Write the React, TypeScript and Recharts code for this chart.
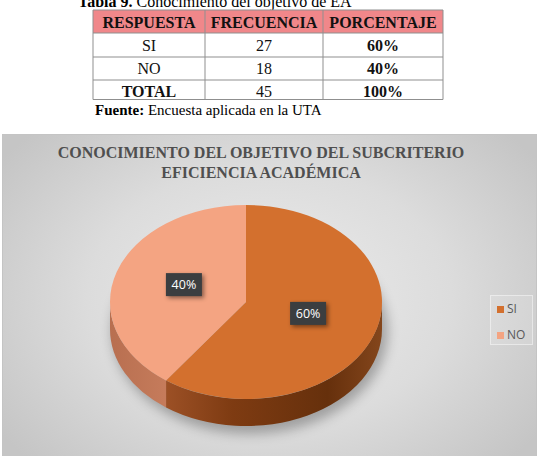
import React from 'react';
import { PieChart, Pie, Cell, Legend } from 'recharts';

// ---- data ----
const categories = ['SI', 'NO'];
const frequencies = [27, 18];
const percentages = ['60%', '40%'];
const totalLabel = 'TOTAL';
const totalFrequency = 45;
const totalPercentage = '100%';
const tableHeaders = ['RESPUESTA', 'FRECUENCIA', 'PORCENTAJE'];
const chartTitle = ['CONOCIMIENTO DEL OBJETIVO DEL SUBCRITERIO', 'EFICIENCIA ACADÉMICA'];
const tableCaptionBold = 'Tabla 9.';
const tableCaptionText = ' Conocimiento del objetivo de EA';
const sourceBold = 'Fuente:';
const sourceText = ' Encuesta aplicada en la UTA';

// ---- styles ----
const topColors = ['#D3702E', '#F4A482'];
const sideStops: [number, string][][] = [
  [[0.15, '#a3552a'], [0.45, '#7e3b12'], [0.8, '#66300c'], [1, '#84461c']],
  [[0, '#b86f50'], [0.2, '#c57b5b']],
];
const RATIO = 97 / 136;
const DEPTH = 27;
const SERIF = '"Liberation Serif", "Times New Roman", serif';
const SANS = '"Open Sans", "Liberation Sans", Arial, sans-serif';

const pieData = categories.map((name, i) => ({ name, value: frequencies[i] }));

function ept(cx: number, cy: number, rx: number, ry: number, deg: number) {
  const r = (deg * Math.PI) / 180;
  return [cx + rx * Math.cos(r), cy - ry * Math.sin(r)];
}

const Slice3D = (props: any) => {
  const { cx, cy, outerRadius, startAngle, endAngle, fill } = props;
  const nm = props.name ?? props.payload?.name;
  const idx = categories.indexOf(nm);
  const rx = outerRadius;
  const ry = outerRadius * RATIO;
  const lo = Math.min(startAngle, endAngle);
  const hi = Math.max(startAngle, endAngle);
  const [x1, y1] = ept(cx, cy, rx, ry, hi);
  const [x2, y2] = ept(cx, cy, rx, ry, lo);
  const large = hi - lo > 180 ? 1 : 0;
  const top = `M${cx},${cy} L${x1},${y1} A${rx},${ry} 0 ${large} 1 ${x2},${y2} Z`;
  const sides: string[] = [];
  for (let k = -2; k <= 2; k++) {
    const a = Math.max(lo, -180 + 360 * k);
    const b = Math.min(hi, 360 * k);
    if (b - a > 0.01) {
      const [bx, by] = ept(cx, cy, rx, ry, b);
      const [ax, ay] = ept(cx, cy, rx, ry, a);
      sides.push(
        `M${bx},${by} A${rx},${ry} 0 0 1 ${ax},${ay} L${ax},${ay + DEPTH} A${rx},${ry} 0 0 0 ${bx},${by + DEPTH} Z`
      );
    }
  }
  const gid = `side-grad-${idx}`;
  const stops = sideStops[idx] ?? [[0, '#888'], [1, '#666']];
  return (
    <g>
      <defs>
        <linearGradient id={gid} x1={cx - rx} x2={cx + rx} y1={0} y2={0} gradientUnits="userSpaceOnUse">
          {stops.map(([o, c], i) => (
            <stop key={i} offset={o} stopColor={c} />
          ))}
        </linearGradient>
      </defs>
      {sides.map((d, i) => (
        <path key={i} d={d} fill={`url(#${gid})`} />
      ))}
      <path d={top} fill={fill} />
    </g>
  );
};

const renderLabel = (props: any) => {
  const { cx, cy, midAngle, outerRadius, percent } = props;
  const r = (midAngle * Math.PI) / 180;
  const x = cx + outerRadius * 0.48 * Math.cos(r);
  const y = cy - outerRadius * RATIO * 0.48 * Math.sin(r) - 3;
  const txt = `${Math.round(percent * 100)}%`;
  return (
    <g>
      <rect
        x={x - 18}
        y={y - 11.5}
        width={36}
        height={23}
        fill="#3b3e40"
        style={{ filter: 'drop-shadow(2px 2px 2px rgba(0,0,0,0.45))' }}
      />
      <text
        x={x}
        y={y + 4.5}
        textAnchor="middle"
        fill="#ffffff"
        style={{ fontFamily: SANS, fontSize: 12.5 }}
      >
        {txt}
      </text>
    </g>
  );
};

const renderLegend = (props: any) => {
  const payload = [...(props.payload || [])].sort(
    (a: any, b: any) => categories.indexOf(a.value) - categories.indexOf(b.value)
  );
  return (
    <div
      style={{
        width: 43,
        height: 50,
        boxSizing: 'border-box',
        border: '1px solid rgba(255,255,255,0.45)',
        background: 'rgba(255,255,255,0.12)',
        position: 'relative',
      }}
    >
      {payload.map((p: any, i: number) => (
        <div
          key={i}
          style={{ position: 'absolute', left: 6, top: 6 + i * 26, display: 'flex', alignItems: 'center', height: 14 }}
        >
          <span style={{ display: 'inline-block', width: 7, height: 7, background: p.color, marginRight: 3 }} />
          <span style={{ fontFamily: SANS, fontSize: 12, color: '#595959', lineHeight: '14px' }}>{p.value}</span>
        </div>
      ))}
    </div>
  );
};

const colX = [93, 205, 323, 443];
const rowY = [10, 33, 57, 80, 99.5];
const baselines = [28, 50.5, 74, 97];

const DataTable = () => {
  const rows = [
    ...categories.map((c, i) => [c, String(frequencies[i]), percentages[i]]),
    [totalLabel, String(totalFrequency), totalPercentage],
  ];
  const mid = (i: number) => (colX[i] + colX[i + 1]) / 2;
  return (
    <svg width={541} height={125} style={{ position: 'absolute', left: 0, top: 0 }}>
      <text x={78} y={7} style={{ fontFamily: SERIF, fontSize: 16 }} fill="#000">
        <tspan fontWeight="bold">{tableCaptionBold}</tspan>
        <tspan>{tableCaptionText}</tspan>
      </text>
      <rect x={colX[0]} y={rowY[0]} width={colX[3] - colX[0]} height={rowY[1] - rowY[0]} fill="#F0878A" />
      {rowY.map((y, i) => (
        <line key={'h' + i} x1={colX[0]} x2={colX[3]} y1={y} y2={y} stroke="#8f8f8f" strokeWidth={1} />
      ))}
      {colX.map((x, i) => (
        <line key={'v' + i} x1={x} x2={x} y1={rowY[0]} y2={rowY[4]} stroke="#8f8f8f" strokeWidth={1} />
      ))}
      {tableHeaders.map((h, i) => (
        <text key={'th' + i} x={mid(i)} y={baselines[0]} textAnchor="middle" fontWeight="bold"
          style={{ fontFamily: SERIF, fontSize: 16 }} fill="#111">
          {h}
        </text>
      ))}
      {rows.map((r, ri) =>
        r.map((cell, ci) => (
          <text key={ri + '-' + ci} x={mid(ci)} y={baselines[ri + 1]} textAnchor="middle"
            fontWeight={ci === 2 || (ri === rows.length - 1 && ci === 0) ? 'bold' : 'normal'}
            style={{ fontFamily: SERIF, fontSize: 16 }} fill="#111">
            {cell}
          </text>
        ))
      )}
      <text x={95} y={115} style={{ fontFamily: SERIF, fontSize: 15 }} fill="#000">
        <tspan fontWeight="bold">{sourceBold}</tspan>
        <tspan>{sourceText}</tspan>
      </text>
    </svg>
  );
};

export default function App() {
  return (
    <div style={{ position: 'absolute', left: 0, top: 0, width: 541, height: 456, overflow: 'hidden', background: '#fff' }}>
      <DataTable />
      <div
        style={{
          position: 'absolute',
          left: 2,
          top: 134,
          width: 535,
          height: 340,
          boxSizing: 'border-box',
          border: '1px solid #c4c4c4',
          background: 'radial-gradient(ellipse 62% 70% at 50% 48%, #ececec 0%, #dcdcdc 55%, #c5c5c5 100%)',
        }}
      />
      <div
        style={{
          position: 'absolute',
          left: 112,
          top: 228,
          width: 276,
          height: 206,
          borderRadius: '50%',
          background: 'rgba(0,0,0,0.28)',
          filter: 'blur(6px)',
        }}
      />
      <div
        style={{
          position: 'absolute',
          left: 0,
          top: 143,
          width: 522,
          textAlign: 'center',
          fontFamily: SERIF,
          fontWeight: 'bold',
          fontSize: 16,
          lineHeight: '20px',
          color: '#4f4f4f',
        }}
      >
        {chartTitle.map((t, i) => (
          <div key={i}>{t}</div>
        ))}
      </div>
      <div style={{ position: 'absolute', left: 0, top: 0 }}>
        <PieChart width={541} height={456} margin={{ top: 0, right: 0, bottom: 0, left: 0 }}>
          <Pie
            data={pieData}
            dataKey="value"
            nameKey="name"
            cx={246}
            cy={302}
            outerRadius={136}
            startAngle={90}
            endAngle={-270}
            stroke="none"
            isAnimationActive={false}
            labelLine={false}
            label={renderLabel}
            shape={Slice3D}
            activeShape={Slice3D}
            inactiveShape={Slice3D}
          >
            {pieData.map((d, i) => (
              <Cell key={d.name} fill={topColors[i]} />
            ))}
          </Pie>
          <Legend
            layout="vertical"
            align="right"
            verticalAlign="top"
            content={renderLegend}
            wrapperStyle={{ left: 490, top: 295, width: 43, height: 50 }}
          />
        </PieChart>
      </div>
    </div>
  );
}
